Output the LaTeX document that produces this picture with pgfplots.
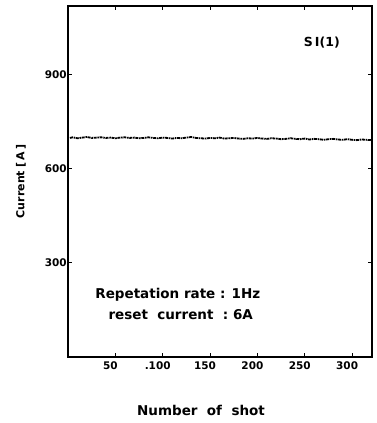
\documentclass[border=0pt]{standalone}
\usepackage{pgfplots}
\pgfplotsset{compat=1.18}
\usepackage{fontspec}
\setmainfont{DejaVu Sans}
\begin{document}
\begin{tikzpicture}[x=1pt,y=1pt]
\useasboundingbox (0,0) rectangle (377,423);
\begin{axis}[
  at={(68pt,66pt)}, anchor=south west,
  scale only axis, width=304pt, height=351pt,
  xmin=0, xmax=321, ymin=0, ymax=1120,
  xtick={50,100,150,200,250,300},
  xticklabels={50,.100,150,200,250,300},
  ytick={300,600,900},
  tick align=inside,
  major tick length=4pt,
  axis line style={line width=1.3pt},
  every tick/.style={line width=1pt,black},
  /pgf/number format/assume math mode=true,
  tick label style={font=\fontsize{10.5}{12}\selectfont\bfseries},
  xticklabel style={xshift=-5pt, yshift=-1pt},
  yticklabel style={inner sep=1pt},
  clip=false,
]
\addplot[black, line width=1.8pt, dash pattern=on 3pt off 0.8pt on 1.5pt off 0.7pt] coordinates {
(2,699) (5,701) (10,698) (15,700) (20,702) (25,699) (30,700) (35,701) (40,699) (45,700)
(50,698) (55,700) (60,701) (65,699) (70,700) (75,698) (80,699) (85,701) (90,699) (95,698)
(100,700) (105,699) (110,697) (115,699) (120,698) (125,700) (130,702) (135,699) (140,698) (145,697)
(150,699) (155,698) (160,700) (165,697) (170,698) (175,699) (180,697) (185,696) (190,698) (195,697)
(200,699) (205,697) (210,696) (215,698) (220,697) (225,695) (230,696) (235,698) (240,696) (245,695)
(250,697) (255,694) (260,696) (265,695) (270,693) (275,695) (280,696) (285,694) (290,693) (295,695)
(300,693) (305,692) (310,694) (315,693) (320,692)
};
\node[font=\fontsize{12.5}{14}\selectfont\bfseries] at (axis cs:268,1002) {S\,I(1)};
\node[font=\fontsize{13.5}{15}\selectfont\bfseries] at (axis cs:116,198) {Repetation rate : 1Hz};
\node[font=\fontsize{13.5}{15}\selectfont\bfseries] at (axis cs:119,134) {reset\ \ current\ \ :\ 6A};
\node[font=\fontsize{13.5}{15}\selectfont\bfseries] at (axis description cs:0.4375,-0.151) {Number\ \ of\ \ shot};
\node[font=\fontsize{11}{13}\selectfont\bfseries, rotate=90] at (axis description cs:-0.155,0.50) {Current\ [\,A\,]};
\end{axis}
\end{tikzpicture}
\end{document}
